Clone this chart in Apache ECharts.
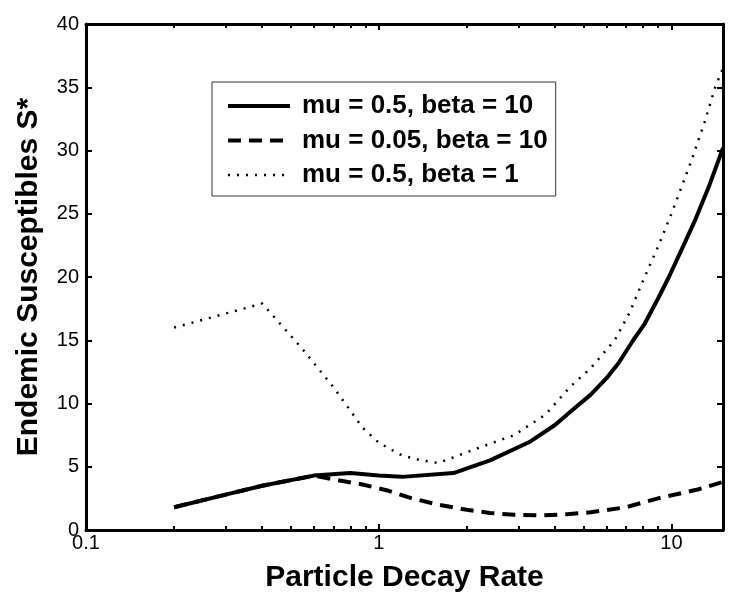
<!DOCTYPE html>
<html>
<head>
<meta charset="utf-8">
<script src="https://cdn.jsdelivr.net/npm/echarts@6/dist/echarts.min.js"></script>
<style>html,body{margin:0;padding:0;background:#fff}#c{width:750px;height:600px}</style>
</head>
<body>
<div id="c"></div>
<script>
// ---- data ----
const seriesNames = ['mu = 0.5, beta = 10', 'mu = 0.05, beta = 10', 'mu = 0.5, beta = 1'];

const solidX = [0.2, 0.3, 0.4, 0.6, 0.8, 1.0, 1.2, 1.8, 2.4, 3.3, 4.0, 4.6, 5.3, 6.0, 6.6, 7.4, 8.1, 9.0, 9.8, 11.0, 12.1, 13.5, 15];
const solidY = [1.8, 2.8, 3.5, 4.3, 4.5, 4.3, 4.2, 4.5, 5.5, 7.0, 8.3, 9.5, 10.7, 12.0, 13.2, 15.0, 16.3, 18.3, 20.0, 22.5, 24.6, 27.3, 30.2];

const dashX = [0.2, 0.3, 0.4, 0.6, 0.7, 0.88, 1.08, 1.3, 1.6, 2.0, 2.4, 2.9, 3.6, 4.4, 5.3, 7.0, 9.0, 12.3, 15];
const dashY = [1.8, 2.8, 3.5, 4.3, 4.0, 3.6, 3.1, 2.5, 2.0, 1.6, 1.35, 1.2, 1.15, 1.25, 1.4, 1.8, 2.5, 3.2, 3.8];

const dotX = [0.2, 0.4, 0.54, 0.7, 0.88, 1.0, 1.2, 1.4, 1.6, 2.2, 2.9, 3.7, 4.12, 4.5, 5.3, 6.4, 7.2, 8.1, 9.0, 10.0, 11.7, 13.0, 14.1, 15];
const dotY = [16.0, 17.9, 14.5, 11.3, 8.1, 6.9, 5.9, 5.5, 5.3, 6.5, 7.5, 9.1, 10.3, 11.3, 12.8, 15.0, 17.2, 20.0, 22.4, 25.0, 29.2, 32.3, 35.0, 36.5];

const xMajorTicks = [0.1, 1, 10];
const xMinorTicks = [0.2, 0.3, 0.4, 0.5, 0.6, 0.7, 0.8, 0.9, 2, 3, 4, 5, 6, 7, 8, 9];
const xMin = 0.1, xMax = 15;
const yMin = 0, yMax = 40, yStep = 5;

const xTitle = 'Particle Decay Rate';
const yTitle = 'Endemic Susceptibles S*';

// ---- chart ----
const FONT = 'Liberation Sans, Arial, sans-serif';
const pairs = (xs, ys) => xs.map((x, i) => [x, ys[i]]);
const styles = [
  { width: 4, type: 'solid' },
  { width: 4, type: [13, 8] },
  { width: 2.5, type: [2, 7] }
];

function xAxisCfg(pos, major, showLine, showLabel) {
  const ticks = major ? xMajorTicks : xMinorTicks;
  return {
    type: 'log', logBase: 10, min: xMin, max: xMax, position: pos, gridIndex: 0,
    axisLine: { show: showLine, lineStyle: { color: '#000', width: 3 } },
    axisTick: { show: true, inside: true, length: major ? 6 : 4, customValues: ticks,
                lineStyle: { color: '#000', width: 2 } },
    axisLabel: showLabel ? {
      show: true, customValues: xMajorTicks, margin: 3, fontSize: 20, color: '#000', fontFamily: FONT,
      formatter: v => String(+Number(v).toPrecision(3))
    } : { show: false },
    splitLine: { show: false }, minorTick: { show: false }, minorSplitLine: { show: false }
  };
}

const xAxes = [
  xAxisCfg('bottom', true, true, true),
  xAxisCfg('bottom', false, false, false),
  xAxisCfg('top', true, true, false),
  xAxisCfg('top', false, false, false)
];
Object.assign(xAxes[0], {
  name: xTitle, nameLocation: 'middle', nameGap: 33,
  nameTextStyle: { fontSize: 30, fontWeight: 'bold', color: '#000', fontFamily: FONT }
});

const yAxes = [
  {
    type: 'value', min: yMin, max: yMax, interval: yStep, position: 'left',
    axisLine: { show: true, lineStyle: { color: '#000', width: 3 } },
    axisTick: { show: true, inside: true, length: 6, lineStyle: { color: '#000', width: 2 } },
    axisLabel: { show: true, margin: 7, fontSize: 20, color: '#000', fontFamily: FONT },
    splitLine: { show: false },
    name: yTitle, nameLocation: 'middle', nameGap: 42,
    nameTextStyle: { fontSize: 30, fontWeight: 'bold', color: '#000', fontFamily: FONT }
  },
  {
    type: 'value', min: yMin, max: yMax, interval: yStep, position: 'right',
    axisLine: { show: true, lineStyle: { color: '#000', width: 3 } },
    axisTick: { show: true, inside: true, length: 6, lineStyle: { color: '#000', width: 2 } },
    axisLabel: { show: false }, splitLine: { show: false }
  }
];

const chart = echarts.init(document.getElementById('c'), null, { renderer: 'canvas' });
chart.setOption({
  animation: false,
  backgroundColor: '#fff',
  grid: { left: 86, right: 27, top: 24, bottom: 70, containLabel: false },
  xAxis: xAxes,
  yAxis: yAxes,
  legend: {
    show: true, orient: 'vertical', left: 212, top: 82,
    data: seriesNames.map((n, i) => ({ name: n, lineStyle: { color: '#000', width: styles[i].width, type: styles[i].type } })),
    itemWidth: 62, itemHeight: 20, itemGap: 8.5,
    padding: [11, 8, 8, 14],
    backgroundColor: '#fff', borderColor: '#333', borderWidth: 1, borderRadius: 0,
    itemStyle: { opacity: 0 },
    textStyle: { fontSize: 26, fontWeight: 'bold', color: '#000', fontFamily: FONT,
                 lineHeight: 26, padding: [0, 0, 0, 7] }
  },
  series: [
    { name: seriesNames[0], type: 'line', data: pairs(solidX, solidY), symbol: 'none', showSymbol: false,
      color: '#000', lineStyle: Object.assign({ color: '#000' }, styles[0]), z: 3 },
    { name: seriesNames[1], type: 'line', data: pairs(dashX, dashY), symbol: 'none', showSymbol: false,
      color: '#000', lineStyle: Object.assign({ color: '#000' }, styles[1]), z: 2 },
    { name: seriesNames[2], type: 'line', data: pairs(dotX, dotY), symbol: 'none', showSymbol: false,
      color: '#000', lineStyle: Object.assign({ color: '#000' }, styles[2]), z: 2 }
  ]
});
</script>
</body>
</html>
